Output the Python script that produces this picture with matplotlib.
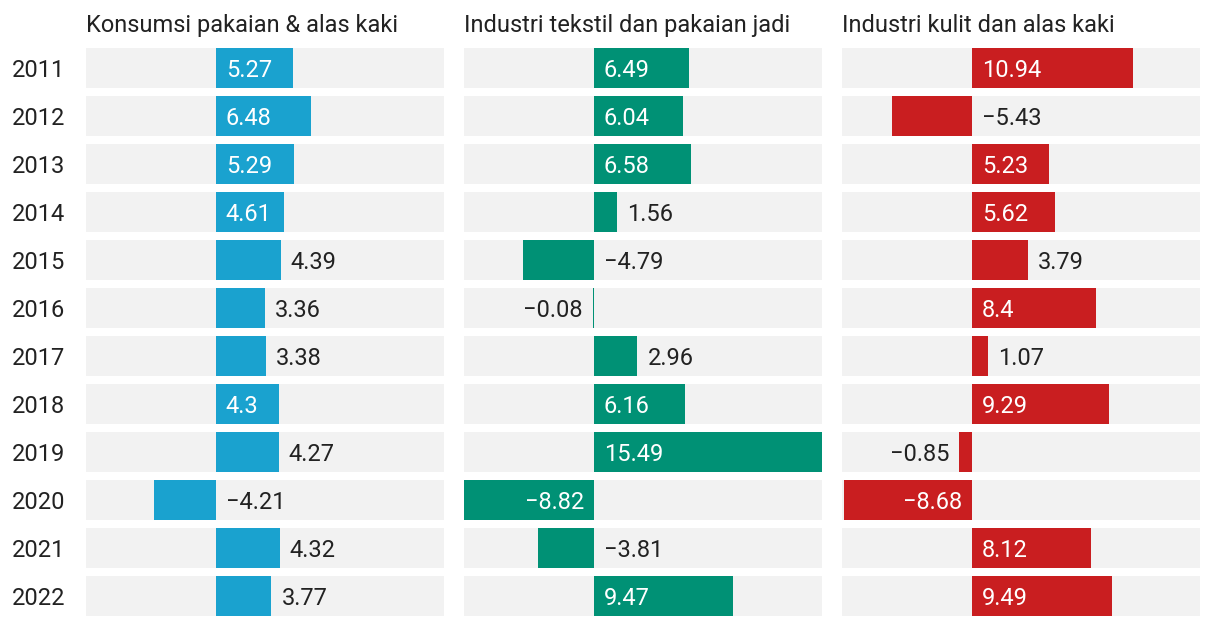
import matplotlib
matplotlib.use("Agg")
import matplotlib.pyplot as plt
from matplotlib.transforms import blended_transform_factory

plt.rcParams['font.family'] = ['Roboto', 'DejaVu Sans']

# data
years = ['2011', '2012', '2013', '2014', '2015', '2016', '2017', '2018', '2019', '2020', '2021', '2022']
titles = ['Konsumsi pakaian & alas kaki', 'Industri tekstil dan pakaian jadi', 'Industri kulit dan alas kaki']
konsumsi = [5.27, 6.48, 5.29, 4.61, 4.39, 3.36, 3.38, 4.3, 4.27, -4.21, 4.32, 3.77]
tekstil = [6.49, 6.04, 6.58, 1.56, -4.79, -0.08, 2.96, 6.16, 15.49, -8.82, -3.81, 9.47]
kulit = [10.94, -5.43, 5.23, 5.62, 3.79, 8.4, 1.07, 9.29, -0.85, -8.68, 8.12, 9.49]
series = [konsumsi, tekstil, kulit]
colors = ['#1aa2cf', '#009175', '#c91e20']

W, H = 1220, 626
fig = plt.figure(figsize=(W / 100, H / 100), dpi=100)
renderer = fig.canvas.get_renderer()

allv = konsumsi + tekstil + kulit
xmin, xmax = min(allv), max(allv)
panel_w = 358
scale = panel_w / (xmax - xmin)  # px per unit
pad = 10 / scale
fs = 17

for p, (vals, title, col) in enumerate(zip(series, titles, colors)):
    left = 86 + p * 378
    ax = fig.add_axes([left / W, (H - 620) / H, panel_w / W, 576 / H])
    ax.set_xlim(xmin, xmax)
    ax.set_ylim(len(years) - 0.5, -0.5)
    ax.axis('off')
    rows = range(len(years))
    ax.barh(rows, [xmax - xmin] * len(years), left=xmin, height=40 / 48, color='#f2f2f2', linewidth=0)
    ax.barh(rows, vals, height=40 / 48, color=col, linewidth=0)
    fig.text(left / W, (H - 32) / H, title, fontsize=17, color='#222222', va='baseline', ha='left')

    for i, v in enumerate(vals):
        label = f"{v:g}".replace('-', '\u2212')
        t = ax.text(0, i, label, fontsize=fs, va='center_baseline')
        tw = t.get_window_extent(renderer).width / scale
        bar = abs(v)
        if bar >= tw + 2 * pad + 2 / scale:
            # inside the bar
            t.set_color('white')
            if v >= 0:
                t.set_x(pad)
                t.set_ha('left')
            else:
                t.set_x(-pad)
                t.set_ha('right')
        else:
            t.set_color('#222222')
            if v >= 0:
                t.set_x(v + pad)
                t.set_ha('left')
            elif (v - xmin) >= tw + 2 * pad:
                t.set_x(v - pad)
                t.set_ha('right')
            else:
                t.set_x(pad)
                t.set_ha('left')

    if p == 0:
        tr = blended_transform_factory(fig.transFigure, ax.transData)
        for i, y in enumerate(years):
            ax.text(12 / W, i, y, transform=tr, fontsize=fs, color='#222222',
                    va='center_baseline', ha='left')

fig.savefig('out.png', dpi=100)
